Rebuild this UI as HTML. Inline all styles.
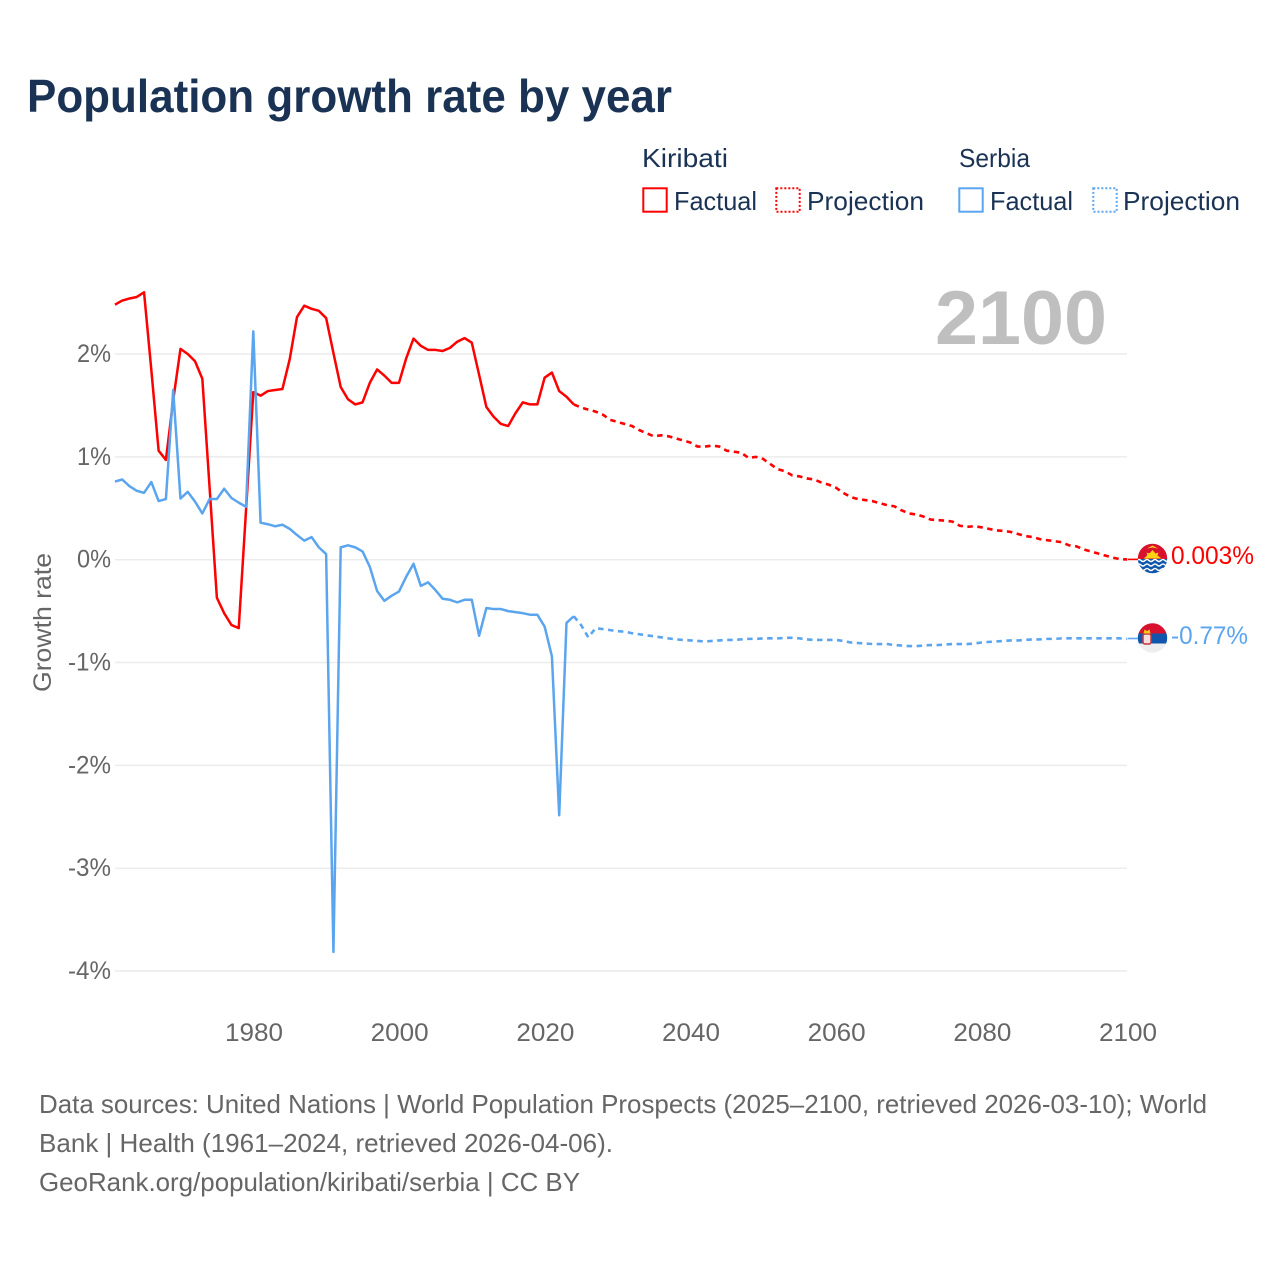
<!DOCTYPE html>
<html lang="en">
<head>
<meta charset="utf-8">
<title>Population growth rate by year</title>
<style>
html,body{margin:0;padding:0;background:#fff;width:1280px;height:1280px;overflow:hidden}
svg{display:block}
text{font-family:"Liberation Sans",sans-serif}
</style>
</head>
<body>
<svg id="chart" width="1280" height="1280" viewBox="0 0 1280 1280" xmlns="http://www.w3.org/2000/svg">
<defs>
<clipPath id="flag-clip-k"><circle cx="1152.5" cy="558.5" r="14.7"/></clipPath>
<clipPath id="flag-clip-s"><circle cx="1152.5" cy="638" r="14.7"/></clipPath>
</defs>
<text x="27" y="112" font-size="46" font-weight="700" fill="#1a3354" textLength="645" lengthAdjust="spacingAndGlyphs">Population growth rate by year</text>

<g font-size="26" fill="#1a3354">
<text x="642" y="167" textLength="86" lengthAdjust="spacingAndGlyphs">Kiribati</text>
<rect x="643.3" y="188.3" width="23.4" height="23.4" fill="none" stroke="#ff0000" stroke-width="2"/>
<text x="674" y="210" textLength="83" lengthAdjust="spacingAndGlyphs">Factual</text>
<rect x="776.3" y="188.3" width="23.4" height="23.4" fill="none" stroke="#ff0000" stroke-width="2" stroke-dasharray="2 2"/>
<text x="807" y="210" textLength="117" lengthAdjust="spacingAndGlyphs">Projection</text>
<text x="959" y="167" textLength="71" lengthAdjust="spacingAndGlyphs">Serbia</text>
<rect x="959.3" y="188.3" width="23.4" height="23.4" fill="none" stroke="#5ba5ee" stroke-width="2"/>
<text x="990" y="210" textLength="83" lengthAdjust="spacingAndGlyphs">Factual</text>
<rect x="1093.3" y="188.3" width="23.4" height="23.4" fill="none" stroke="#5ba5ee" stroke-width="2" stroke-dasharray="2 2"/>
<text x="1123" y="210" textLength="117" lengthAdjust="spacingAndGlyphs">Projection</text>
</g>

<g id="grid"></g>
<g id="y-ticks"></g>
<g id="x-ticks"></g>
<text x="935" y="344" font-size="76" font-weight="700" fill="#bfbfbf" textLength="172" lengthAdjust="spacingAndGlyphs">2100</text>
<text transform="translate(51 692) rotate(-90)" font-size="25" fill="#666666" textLength="139" lengthAdjust="spacingAndGlyphs">Growth rate</text>
<g id="series"></g>

<g clip-path="url(#flag-clip-k)">
<rect x="1137" y="543" width="31" height="16" fill="#d8112f"/>
<rect x="1137" y="559" width="31" height="16" fill="#0f56ac"/>
<path d="M1146 558.500a6 6 0 0 1 12 0z" fill="#fcd116"/>
<path d="M1143.500 558.500l4-3-1-3 3 1 3-3.500 3 3.500 3-1-1 3 4 3z" fill="#fcd116"/>
<path d="M1147 548.500l5.500-3 5.500 3-5.500-1z" fill="#fcd116"/>
<path d="M1137 560.500q2-2 4 0t4 0 4 0 4 0 4 0 4 0 4 0 4 0M1137 565q2-2 4 0t4 0 4 0 4 0 4 0 4 0 4 0 4 0M1137 569.500q2-2 4 0t4 0 4 0 4 0 4 0 4 0 4 0 4 0" fill="none" stroke="#ffffff" stroke-width="1.500"/>
</g>
<g clip-path="url(#flag-clip-s)">
<rect x="1137" y="623" width="31" height="10.500" fill="#d8112f"/>
<rect x="1137" y="633.500" width="31" height="10" fill="#0f56ac"/>
<rect x="1137" y="643.500" width="31" height="10" fill="#eeeeee"/>
<rect x="1143" y="634" width="8" height="10" rx="2" fill="#f3dede" stroke="#c6363c" stroke-width="1.500"/>
<path d="M1143.500 633.500l1-4 2.500 1.500 2.500-1.500 1 4z" fill="#f5c518"/>
</g>
<line x1="1128" y1="559.400" x2="1138" y2="559.400" stroke="#ff0000" stroke-width="1.600"/>
<line x1="1128" y1="638.500" x2="1138" y2="638.500" stroke="#5ba5ee" stroke-width="1.600"/>
<text x="1171" y="564" font-size="25" fill="#ff0000" textLength="83" lengthAdjust="spacingAndGlyphs">0.003%</text>
<text x="1171" y="644" font-size="25" fill="#5ba5ee" textLength="77" lengthAdjust="spacingAndGlyphs">-0.77%</text>

<g font-size="26" fill="#666666">
<text x="39" y="1113" textLength="1168" lengthAdjust="spacingAndGlyphs">Data sources: United Nations | World Population Prospects (2025–2100, retrieved 2026-03-10); World</text>
<text x="39" y="1152" textLength="574" lengthAdjust="spacingAndGlyphs">Bank | Health (1961–2024, retrieved 2026-04-06).</text>
<text x="39" y="1191" textLength="541" lengthAdjust="spacingAndGlyphs">GeoRank.org/population/kiribati/serbia | CC BY</text>
</g>
</svg>
<script>
var yTickValues = [2, 1, 0, -1, -2, -3, -4];
var yTickLabels = ["2%", "1%", "0%", "-1%", "-2%", "-3%", "-4%"];
var xTickValues = [1980, 2000, 2020, 2040, 2060, 2080, 2100];
var xTickLabels = ["1980", "2000", "2020", "2040", "2060", "2080", "2100"];
var factualStartYear = 1961;
var projectionStartYear = 2024;
var kiribatiFactual = [2.48,2.52,2.54,2.555,2.60,1.845,1.06,0.97,1.55,2.05,2.00,1.93,1.76,0.70,-0.37,-0.52,-0.635,-0.665,0.48,1.63,1.595,1.64,1.65,1.66,1.95,2.36,2.47,2.44,2.42,2.35,2.01,1.68,1.56,1.51,1.53,1.72,1.85,1.79,1.72,1.72,1.96,2.15,2.08,2.04,2.04,2.03,2.06,2.12,2.155,2.11,1.80,1.485,1.39,1.32,1.30,1.425,1.53,1.51,1.51,1.77,1.82,1.64,1.585,1.51];
var kiribatiProjection = [1.51,1.48,1.46,1.44,1.41,1.36,1.34,1.32,1.30,1.26,1.23,1.20,1.21,1.20,1.18,1.16,1.14,1.10,1.10,1.11,1.10,1.06,1.05,1.04,0.99,1.00,0.98,0.93,0.88,0.86,0.82,0.81,0.79,0.78,0.75,0.73,0.70,0.65,0.61,0.59,0.58,0.57,0.55,0.53,0.52,0.48,0.45,0.44,0.42,0.39,0.385,0.38,0.37,0.33,0.32,0.325,0.315,0.30,0.285,0.28,0.27,0.25,0.23,0.22,0.20,0.19,0.18,0.17,0.14,0.13,0.10,0.08,0.06,0.04,0.02,0.005,0.003];
var serbiaFactual = [0.76,0.78,0.715,0.67,0.65,0.755,0.57,0.59,1.65,0.595,0.66,0.565,0.45,0.59,0.59,0.69,0.60,0.555,0.515,2.22,0.36,0.345,0.325,0.34,0.30,0.24,0.185,0.22,0.12,0.055,-3.815,0.12,0.14,0.12,0.08,-0.07,-0.305,-0.40,-0.35,-0.31,-0.165,-0.04,-0.255,-0.22,-0.295,-0.38,-0.39,-0.415,-0.39,-0.39,-0.74,-0.47,-0.48,-0.48,-0.50,-0.51,-0.52,-0.535,-0.535,-0.65,-0.94,-2.485,-0.615,-0.55];
var serbiaProjection = [-0.55,-0.635,-0.755,-0.665,-0.675,-0.685,-0.695,-0.70,-0.715,-0.725,-0.735,-0.745,-0.755,-0.765,-0.775,-0.78,-0.785,-0.79,-0.795,-0.79,-0.785,-0.78,-0.78,-0.775,-0.77,-0.77,-0.765,-0.765,-0.765,-0.76,-0.76,-0.765,-0.775,-0.78,-0.78,-0.78,-0.78,-0.79,-0.805,-0.81,-0.815,-0.82,-0.82,-0.82,-0.83,-0.835,-0.84,-0.84,-0.835,-0.83,-0.83,-0.825,-0.82,-0.82,-0.82,-0.815,-0.805,-0.80,-0.795,-0.79,-0.785,-0.785,-0.78,-0.775,-0.775,-0.77,-0.77,-0.765,-0.765,-0.765,-0.765,-0.765,-0.765,-0.765,-0.765,-0.765,-0.77];

var SVG_NS = "http://www.w3.org/2000/svg";
function xScale(year) { return 254 + (year - 1980) * (1128 - 254) / 120; }
function yScale(value) { return 559.7 - value * 102.83; }
function dataX(year) { return xScale(year) - 0.7; }
function make(tag, parent, props) {
  var el = document.createElementNS(SVG_NS, tag);
  for (var k in props) { el.setAttribute(k, props[k]); }
  parent.appendChild(el);
  return el;
}
function linePath(startYear, values) {
  return values.map(function (v, i) {
    return (i ? "L" : "M") + dataX(startYear + i).toFixed(2) + " " + yScale(v).toFixed(2);
  }).join("");
}
var gridGroup = document.getElementById("grid");
var yTickGroup = document.getElementById("y-ticks");
var xTickGroup = document.getElementById("x-ticks");
var seriesGroup = document.getElementById("series");

yTickValues.forEach(function (v, i) {
  var gridLine = make("line", gridGroup, { x1: 115, x2: 1127, y1: yScale(v), y2: yScale(v), stroke: "#ececec", "stroke-width": 1.5 });
  
  
  var label = yTickLabels[i];
  var tick = make("text", yTickGroup, { x: 111, y: yScale(v) + 8, "text-anchor": "end", "font-size": 25, fill: "#666666", textLength: label.length === 2 ? 34 : 43, lengthAdjust: "spacingAndGlyphs" });
  tick.textContent = label;
  
  
});
xTickValues.forEach(function (v, i) {
  var tick = make("text", xTickGroup, { x: xScale(v), y: 1041, "text-anchor": "middle", "font-size": 25, fill: "#666666", textLength: 58, lengthAdjust: "spacingAndGlyphs" });
  tick.textContent = xTickLabels[i];
  
  
});

var kProj = make("path", seriesGroup, { d: linePath(projectionStartYear, kiribatiProjection), fill: "none", stroke: "#ff0000", "stroke-width": 2.6, "stroke-dasharray": "5.5 4.5", "stroke-linejoin": "round" });


var sProj = make("path", seriesGroup, { d: linePath(projectionStartYear, serbiaProjection), fill: "none", stroke: "#5ba5ee", "stroke-width": 2.6, "stroke-dasharray": "5.5 4.5", "stroke-linejoin": "round" });


var kFact = make("path", seriesGroup, { d: linePath(factualStartYear, kiribatiFactual), fill: "none", stroke: "#ff0000", "stroke-width": 2.5, "stroke-linejoin": "round" });


var sFact = make("path", seriesGroup, { d: linePath(factualStartYear, serbiaFactual), fill: "none", stroke: "#5ba5ee", "stroke-width": 2.5, "stroke-linejoin": "round" });


</script>
</body>
</html>
